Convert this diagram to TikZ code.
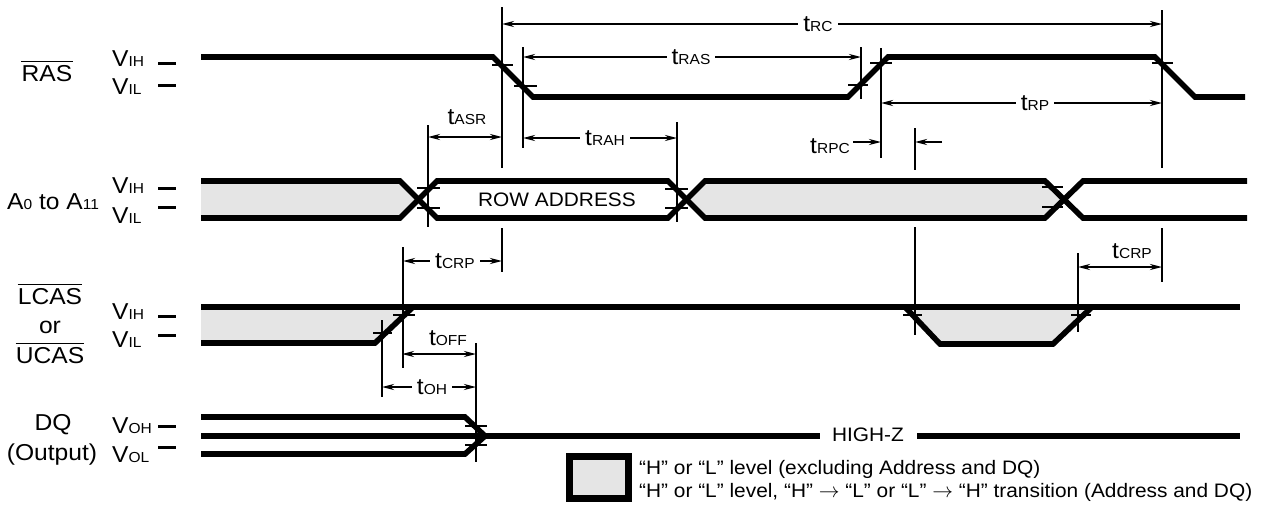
\documentclass[tikz,border=0pt]{standalone}
\usepackage{fontspec}
\setmainfont{Liberation Sans}[FakeStretch=1.07]
\usetikzlibrary{arrows.meta}
\definecolor{lvl}{RGB}{229,229,229}
\newcommand\bigsz{\fontsize{23}{25}\selectfont}
\newcommand\smsz{\fontsize{14.5}{16}\selectfont}
\newcommand\midsz{\fontsize{19.5}{22.5}\selectfont}
\newcommand\tlab[2]{{\bigsz #1}{\smsz #2}}
\tikzset{
  >={Stealth[length=12pt,width=6pt]},
  sig/.style={line width=5.6pt},
  dim/.style={line width=2.2pt},
  tk/.style={line width=2.6pt},
  lvlmark/.style={line width=3pt},
  dimarr/.style={dim,<->},
  onl/.style={fill=white,inner xsep=5pt,inner ysep=1pt},
  lab/.style={inner sep=0pt},
}
\begin{document}
\begin{tikzpicture}[x=1pt,y=-1pt]
\useasboundingbox (0,0) rectangle (1273,515);

% ---------- gray level fills ----------
\fill[lvl] (201,181) -- (400,181) -- (418.5,199.5) -- (400,218) -- (201,218) -- cycle;
\fill[lvl] (686.5,199.5) -- (705,181) -- (1045,181) -- (1064,199.5) -- (1045,218) -- (705,218) -- cycle;
\fill[lvl] (201,307) -- (413,307) -- (375,343) -- (201,343) -- cycle;
\fill[lvl] (905,307) -- (940,344) -- (1053,344) -- (1092,307) -- cycle;

% ---------- signals ----------
% RAS
\draw[sig] (201,57) -- (493,57) -- (533,97) -- (848,97) -- (888,57) -- (1155,57) -- (1195,97) -- (1245,97);
% Address
\draw[sig] (201,181) -- (400,181) -- (437,218) -- (668,218) -- (705,181) -- (1045,181) -- (1083,218) -- (1247,218);
\draw[sig] (201,218) -- (400,218) -- (437,181) -- (668,181) -- (705,218) -- (1045,218) -- (1083,181) -- (1247,181);
% LCAS / UCAS
\draw[sig] (201,307) -- (1240,307);
\draw[sig] (201,343) -- (375,343) -- (413,307);
\draw[sig] (905,307) -- (940,344) -- (1053,344) -- (1092,307);
% DQ
\draw[sig] (201,417) -- (465,417) -- (485,436);
\draw[sig] (201,454) -- (465,454) -- (485,436);
\node[lab] (hz) at (868,435) {\midsz HIGH-Z};
\draw[sig] (201,436) -- (820,436);
\draw[sig] (917,436) -- (1240,436);

% ---------- level ticks on edges ----------
\draw[tk] (492,65)--(513,65) (514,86)--(537,86) (848,85)--(868,85) (870,63)--(892,63) (1152,63)--(1173,63);
\draw[tk] (417,188)--(440,188) (417,208)--(440,208) (665,189)--(688,189) (665,208)--(688,208) (1042,187)--(1063,187) (1042,207)--(1063,207);
\draw[tk] (393,315)--(415,315) (373,333)--(392,333) (903,315)--(922,315) (1071,315)--(1091,315);
\draw[tk] (465,426)--(487,426) (465,445)--(487,445);

% ---------- reference verticals ----------
\draw[dim] (502,7)--(502,168) (502,228)--(502,272)
  (523,47)--(523,148) (861,47)--(861,99) (881,48)--(881,158)
  (1162,10)--(1162,168) (1162,228)--(1162,282)
  (428,125)--(428,227) (677,122)--(677,222)
  (915,128)--(915,170) (915,227)--(915,335)
  (403,247)--(403,368) (382,320)--(382,397) (476,343)--(476,462) (1078,253)--(1078,332);

% ---------- dimension arrows ----------
\draw[dimarr] (502,24) -- (1162,24);
\node[onl] (trc) at (818,24) {\tlab{t}{RC}};
\draw[dimarr] (523,57) -- (861,57);
\node[onl] (tras) at (691,57) {\tlab{t}{RAS}};
\draw[dimarr] (428,137) -- (502,137);
\node[lab,anchor=base] (tasr) at (467,124) {\tlab{t}{ASR}};
\draw[dimarr] (523,138) -- (677,138);
\node[onl] (trah) at (605,138) {\tlab{t}{RAH}};
\draw[dimarr] (881,103) -- (1162,103);
\node[onl] (trp) at (1035,103) {\tlab{t}{RP}};
\node[lab,anchor=base] (trpc) at (830,153) {\tlab{t}{RPC}};
\draw[dim,->] (853,142) -- (881,142);
\draw[dim,->] (942,142) -- (915,142);
\draw[dimarr] (403,261) -- (502,261);
\node[onl] (tcrpa) at (455,261) {\tlab{t}{CRP}};
\draw[dimarr] (1078,267) -- (1162,267);
\node[lab,anchor=base] (tcrpb) at (1132,258) {\tlab{t}{CRP}};
\draw[dimarr] (402,354) -- (476,354);
\node[lab,anchor=base] (toff) at (448,345) {\tlab{t}{OFF}};
\draw[dimarr] (382,387) -- (476,387);
\node[onl] (toh) at (432,387) {\tlab{t}{OH}};

% ---------- data label ----------
\node[lab] (row) at (557,200) {\midsz ROW ADDRESS};

% ---------- signal names ----------
\node[lab,anchor=base] (ras) at (47,81) {\bigsz RAS};
\draw[line width=1.5pt] ([yshift=3pt]ras.north west) -- ([yshift=3pt]ras.north east);
\node[lab,anchor=base west] (addr) at (7,209) {\bigsz A{\smsz 0} to A{\smsz 11}};
\node[lab,anchor=base] (lcas) at (50,304) {\bigsz LCAS};
\draw[line width=1.5pt] ([yshift=3pt]lcas.north west) -- ([yshift=3pt]lcas.north east);
\node[lab,anchor=base] (or) at (50,333) {\bigsz or};
\node[lab,anchor=base] (ucas) at (50,363) {\bigsz UCAS};
\draw[line width=1.5pt] ([yshift=3pt]ucas.north west) -- ([yshift=3pt]ucas.north east);
\node[lab,anchor=base] (dq) at (53,430) {\bigsz DQ};
\node[lab,anchor=base] (out) at (52,460) {\bigsz (Output)};

% ---------- level names ----------
\node[lab,anchor=base west] (v1) at (112,66) {\tlab{V}{IH}};
\node[lab,anchor=base west] (v2) at (112,94) {\tlab{V}{IL}};
\node[lab,anchor=base west] (v3) at (112,193) {\tlab{V}{IH}};
\node[lab,anchor=base west] (v4) at (112,223) {\tlab{V}{IL}};
\node[lab,anchor=base west] (v5) at (112,319) {\tlab{V}{IH}};
\node[lab,anchor=base west] (v6) at (112,347) {\tlab{V}{IL}};
\node[lab,anchor=base west] (v7) at (112,433) {\tlab{V}{OH}};
\node[lab,anchor=base west] (v8) at (112,462) {\tlab{V}{OL}};
\draw[lvlmark] (158,63)--(176,63) (158,85)--(176,85)
  (158,188)--(176,188) (158,207)--(176,207)
  (158,316)--(176,316) (158,335)--(176,335)
  (158,426)--(176,426) (158,447)--(176,447);

% ---------- legend ----------
\draw[line width=7pt,fill=lvl] (569.5,456.5) rectangle (628.5,498.5);
\node[lab,anchor=west,align=left,font=\midsz] (leg) at (639,481) {“H” or “L” level (excluding Address and DQ)\\
  “H” or “L” level, “H” $\rightarrow$ “L” or “L” $\rightarrow$ “H” transition (Address and DQ)};
\end{tikzpicture}
\end{document}
